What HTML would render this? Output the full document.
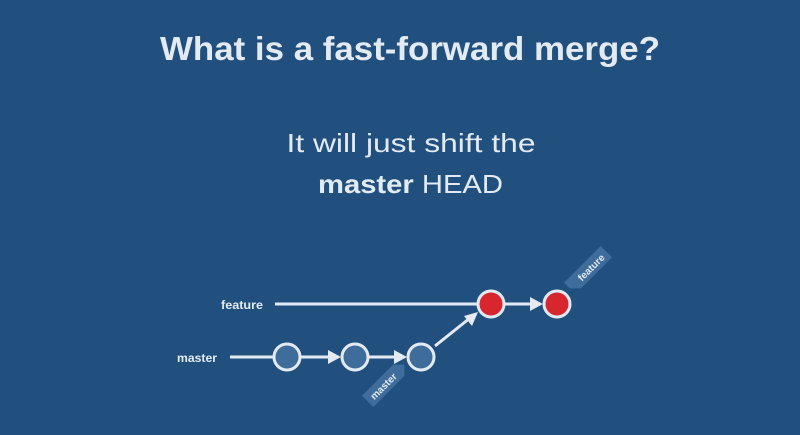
<!DOCTYPE html>
<html><head><style>
html,body{margin:0;padding:0;background:#21507f;}
svg{display:block}
text{font-family:"Liberation Sans",sans-serif;fill:#e3eaf2}
</style></head><body>
<svg width="800" height="435" viewBox="0 0 800 435">
<rect width="800" height="435" fill="#21507f"/>
<text x="410" y="60" font-size="33" font-weight="bold" text-anchor="middle" textLength="500" lengthAdjust="spacingAndGlyphs">What is a fast-forward merge?</text>
<text x="411" y="152" font-size="26" text-anchor="middle" textLength="249" lengthAdjust="spacingAndGlyphs">It will just shift the</text>
<text x="318" y="193" font-size="26" textLength="185" lengthAdjust="spacingAndGlyphs"><tspan font-weight="bold">master</tspan> HEAD</text>
<text x="221" y="309" font-size="12" font-weight="bold" textLength="42" lengthAdjust="spacingAndGlyphs">feature</text>
<text x="177" y="362" font-size="12" font-weight="bold" textLength="40" lengthAdjust="spacingAndGlyphs">master</text>
<g stroke="#e3eaf2" stroke-width="3" fill="none">
<line x1="275" y1="304" x2="478" y2="304"/>
<line x1="230" y1="357" x2="273" y2="357"/>
<line x1="301" y1="357" x2="332" y2="357"/>
<line x1="369" y1="357" x2="398" y2="357"/>
<line x1="435" y1="346" x2="470" y2="318"/>
<line x1="505" y1="304" x2="534" y2="304"/>
</g>
<g fill="#e3eaf2">
<polygon points="341,357 328,350 328,364"/>
<polygon points="407,357 394,350 394,364"/>
<polygon points="478,312 464,316 472,326"/>
<polygon points="543,304 530,297 530,311"/>
</g>
<g stroke="#e3eaf2" stroke-width="3">
<circle cx="287" cy="357" r="13" fill="#3f6d9b"/>
<circle cx="355" cy="357" r="13" fill="#3f6d9b"/>
<circle cx="421" cy="357" r="13" fill="#3f6d9b"/>
<circle cx="491" cy="304" r="13" fill="#d8262f"/>
<circle cx="557" cy="304" r="13" fill="#d8262f"/>
</g>
<g transform="translate(386,383) rotate(-45)">
<polygon points="-26,-8 18,-8 26,0 18,8 -26,8" fill="#3f6d9b"/>
<text x="-4" y="4" font-size="10" font-weight="bold" text-anchor="middle">master</text>
</g>
<g transform="translate(588,270) rotate(-45)">
<polygon points="-26,-8 26,-8 26,8 -18,8 -26,0" fill="#3f6d9b"/>
<text x="4" y="4" font-size="10" font-weight="bold" text-anchor="middle">feature</text>
</g>
</svg>
</body></html>
